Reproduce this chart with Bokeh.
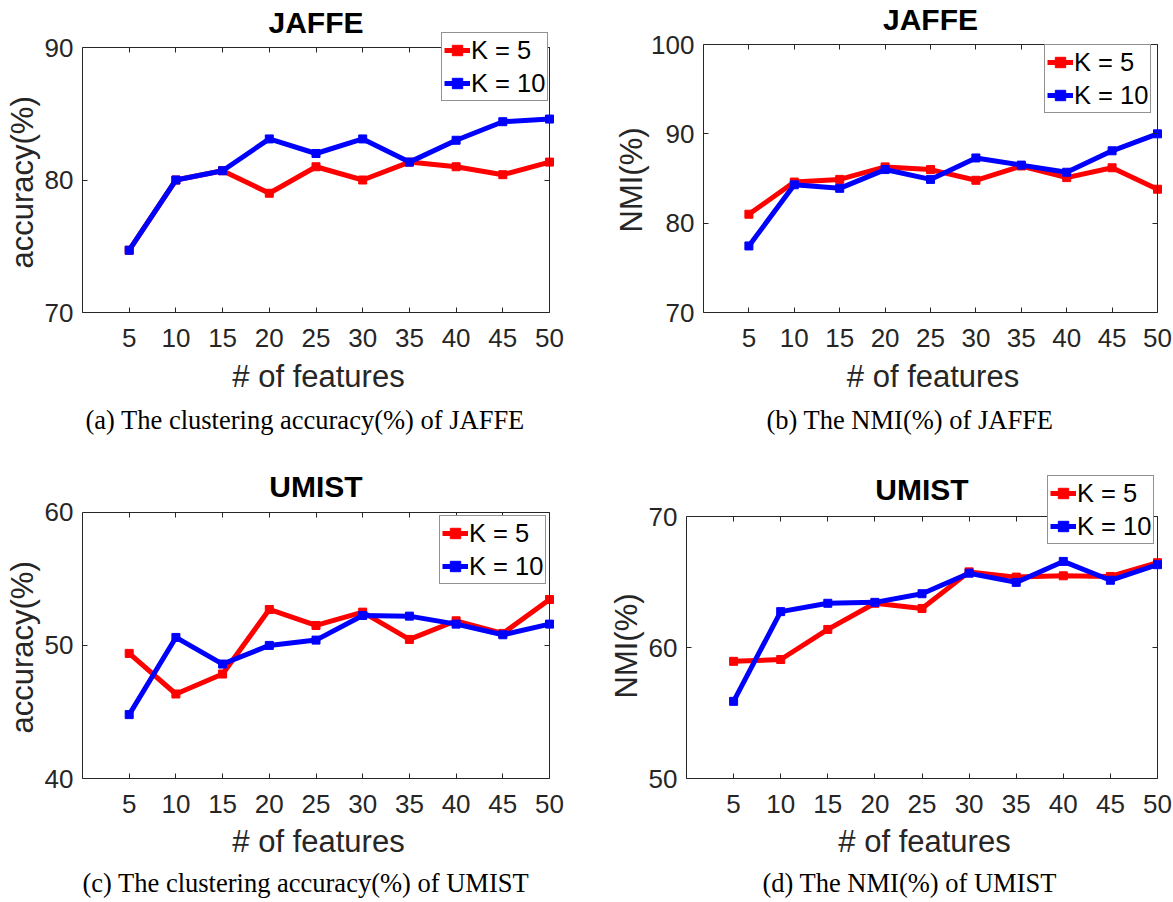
from bokeh.plotting import figure
from bokeh.layouts import row, column
from bokeh.models import Range1d, FixedTicker, LinearAxis, Title, Legend, LegendItem, Label
from bokeh.embed import file_html
from bokeh.resources import INLINE

# ---------------- data ----------------
features = [5, 10, 15, 20, 25, 30, 35, 40, 45, 50]

jaffe_acc_k5 = [74.7, 80.0, 80.7, 79.0, 81.0, 80.0, 81.35, 81.0, 80.4, 81.35]
jaffe_acc_k10 = [74.7, 80.0, 80.7, 83.1, 82.0, 83.1, 81.35, 83.0, 84.4, 84.6]

jaffe_nmi_k5 = [81.0, 84.6, 84.9, 86.3, 86.0, 84.8, 86.4, 85.1, 86.2, 83.8]
jaffe_nmi_k10 = [77.45, 84.3, 83.9, 86.0, 84.9, 87.3, 86.5, 85.7, 88.1, 90.0]

umist_acc_k5 = [49.4, 46.35, 47.85, 52.7, 51.5, 52.5, 50.45, 51.85, 50.9, 53.45]
umist_acc_k10 = [44.8, 50.6, 48.6, 50.0, 50.4, 52.25, 52.2, 51.6, 50.8, 51.6]

umist_nmi_k5 = [58.96, 59.1, 61.4, 63.4, 63.0, 65.8, 65.4, 65.5, 65.45, 66.5]
umist_nmi_k10 = [55.9, 62.76, 63.4, 63.47, 64.13, 65.7, 65.0, 66.6, 65.16, 66.35]

series_labels = ["K = 5", "K = 10"]
series_colors = ["#ff0000", "#0000ff"]
x_label = "# of features"
x_min = 0

AXC = "#262626"
SANS = "Liberation Sans"
SERIF = "Liberation Serif"
EXT_R = 5    # extra frame px on the right so the last markers are not clipped
MB_TOP = 3   # frame starts (almost) at the figure top; title/legend live inside it


def make_panel(title, ylabel, caption, k5, k10, yrange, yticks,
               ox, oy, width, height, left, right, data_top, data_bottom,
               leg_left, leg_bottom, ylab_off, ylab_gap, cap_offset, stand):
    ymin, ymax = yrange
    x_max = features[-1]
    fw_data = width - left - right - EXT_R
    fh_data = data_bottom - data_top
    ext_top = data_top - (oy + MB_TOP)
    x_end = x_max + EXT_R * (x_max - x_min) / fw_data
    y_end = ymax + ext_top * (ymax - ymin) / fh_data
    bottom = oy + height - data_bottom

    p = figure(output_backend="svg", toolbar_location=None,
               width=width, height=height,
               min_border_left=left, min_border_top=MB_TOP,
               min_border_right=right, min_border_bottom=bottom,
               x_range=Range1d(x_min, x_end), y_range=Range1d(ymin, y_end),
               background_fill_color="white", border_fill_color="white",
               outline_line_color=None)
    p.title.visible = False
    p.xgrid.visible = False
    p.ygrid.visible = False

    for ax in (p.xaxis[0], p.yaxis[0]):
        ax.axis_line_color = AXC
        ax.major_tick_line_color = AXC
        ax.major_tick_in = 5
        ax.major_tick_out = 0
        ax.minor_tick_line_color = None
        ax.major_label_text_font = SANS
        ax.major_label_text_font_size = "26px"
        ax.major_label_text_color = AXC
        ax.axis_label_text_font = SANS
        ax.axis_label_text_font_size = "31px"
        ax.axis_label_text_font_style = "normal"
        ax.axis_label_text_color = AXC
    p.xaxis.ticker = FixedTicker(ticks=features)
    p.xaxis.bounds = (x_min, x_max)
    p.yaxis.ticker = FixedTicker(ticks=yticks)
    p.yaxis.bounds = (ymin, ymax)
    p.xaxis.axis_label = x_label
    p.xaxis.major_label_standoff = stand[0]
    p.xaxis.axis_label_standoff = stand[1]
    p.yaxis.major_label_standoff = 9

    # box ticks on top and right (MATLAB style)
    top_ax = LinearAxis(ticker=FixedTicker(ticks=features), bounds=(x_min, x_max),
                        fixed_location=ymax,
                        major_label_text_color=None, major_label_text_font_size="1px",
                        major_tick_in=5, major_tick_out=0, minor_tick_line_color=None,
                        axis_line_color=AXC, major_tick_line_color=AXC, major_label_standoff=0)
    right_ax = LinearAxis(ticker=FixedTicker(ticks=yticks), bounds=(ymin, ymax),
                          fixed_location=x_max,
                          major_label_text_color=None, major_label_text_font_size="1px",
                          major_tick_in=5, major_tick_out=0, minor_tick_line_color=None,
                          axis_line_color=AXC, major_tick_line_color=AXC, major_label_standoff=0)
    p.add_layout(top_ax, "above")
    p.add_layout(right_ax, "right")

    # y label as a side title, centred on the data box
    ylab = Title(text=ylabel, text_font=SANS, text_font_size="31px",
                 text_font_style="normal", text_color=AXC,
                 align="left", offset=ylab_off, standoff=ylab_gap)
    p.add_layout(ylab, "left")

    items = []
    for vals, lab, col in zip([k5, k10], series_labels, series_colors):
        r1 = p.line(features, vals, line_color=col, line_width=5)
        r2 = p.scatter(features, vals, marker="square", size=8,
                       fill_color=col, line_color=col)
        items.append(LegendItem(label=lab, renderers=[r1, r2]))

    leg = Legend(items=items,
                 location=(leg_left - (ox + left), data_bottom - leg_bottom),
                 label_text_font=SANS, label_text_font_size="25.5px", label_text_color="black",
                 padding=2, spacing=3, margin=0,
                 glyph_width=26, glyph_height=30, label_height=30, label_standoff=1,
                 border_line_color=AXC, border_line_width=1,
                 background_fill_color="white", background_fill_alpha=1.0)
    p.add_layout(leg, "center")

    ttl = Label(x=(x_min + x_max) / 2, y=fh_data + 25, x_units="data", y_units="screen",
                text=title, text_font=SANS, text_font_size="30px", text_font_style="bold",
                text_color="black", text_align="center", text_baseline="alphabetic")
    p.add_layout(ttl)

    cap = Title(text=caption, text_font=SERIF, text_font_size="26.5px",
                text_font_style="normal", text_color="black",
                align="left", offset=cap_offset, standoff=stand[2])
    p.add_layout(cap, "below")
    return p


pa = make_panel("JAFFE", "accuracy(%)", "(a) The clustering accuracy(%) of JAFFE",
                jaffe_acc_k5, jaffe_acc_k10, (70, 90), [70, 80, 90],
                ox=0, oy=0, width=580, height=456, left=82, right=26,
                data_top=47, data_bottom=312, leg_left=441, leg_bottom=101,
                ylab_off=44, ylab_gap=4, cap_offset=3, stand=(16, 9, 13))
pb = make_panel("JAFFE", "NMI(%)", "(b) The NMI(%) of JAFFE",
                jaffe_nmi_k5, jaffe_nmi_k10, (70, 100), [70, 80, 90, 100],
                ox=580, oy=0, width=593, height=456, left=123, right=11,
                data_top=44, data_bottom=312, leg_left=1044, leg_bottom=113,
                ylab_off=80, ylab_gap=0, cap_offset=63, stand=(16, 9, 13))
pc = make_panel("UMIST", "accuracy(%)", "(c) The clustering accuracy(%) of UMIST",
                umist_acc_k5, umist_acc_k10, (40, 60), [40, 50, 60],
                ox=0, oy=456, width=580, height=446, left=82, right=26,
                data_top=512, data_bottom=779, leg_left=439, leg_bottom=585,
                ylab_off=45, ylab_gap=4, cap_offset=0, stand=(16, 8, 9))
pd_ = make_panel("UMIST", "NMI(%)", "(d) The NMI(%) of UMIST",
                 umist_nmi_k5, umist_nmi_k10, (50, 70), [50, 60, 70],
                 ox=580, oy=456, width=593, height=446, left=106, right=11,
                 data_top=517, data_bottom=781, leg_left=1047, leg_bottom=547,
                 ylab_off=80, ylab_gap=4, cap_offset=76, stand=(16, 8, 8))

layout = column(row(pa, pb), row(pc, pd_))
open("out.html", "w").write(file_html(layout, INLINE))
